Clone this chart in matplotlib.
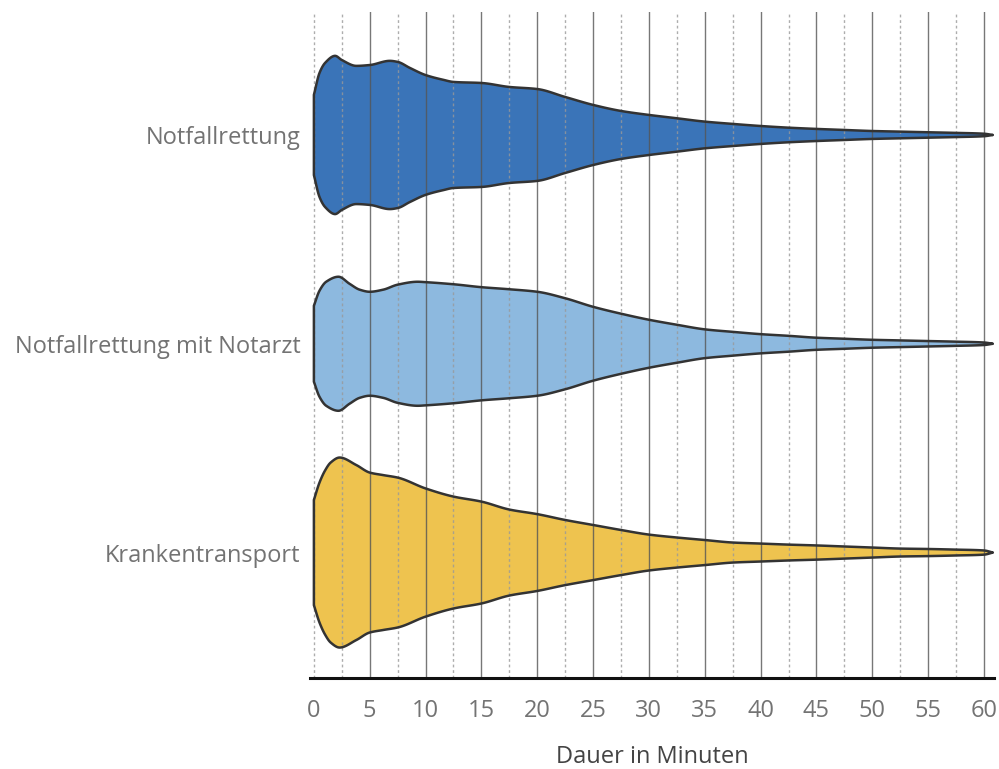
import numpy as np
import matplotlib
matplotlib.use("Agg")
import matplotlib.pyplot as plt

plt.rcParams["font.family"] = ["Open Sans", "DejaVu Sans"]

# Violin categories, top to bottom
categories = ["Notfallrettung", "Notfallrettung mit Notarzt", "Krankentransport"]
colors = ["#3a74b8", "#8db9df", "#eec34f"]

# Half-width of each violin (category units) at given minutes
notfall_x = [0, 0.5, 1.0, 1.9, 2.5, 3.8, 5, 6.8, 7.5, 8.6, 10, 11.6, 12.5, 15, 17.5, 20,
             22.5, 25, 27.5, 30, 32.5, 35, 37.5, 40, 42.5, 45, 47.5, 50, 52.5, 55, 57.5,
             60, 60.8]
notfall_w = [0.192, 0.297, 0.345, 0.379, 0.359, 0.331, 0.335, 0.355, 0.350, 0.321, 0.287,
             0.264, 0.254, 0.249, 0.230, 0.220, 0.182, 0.144, 0.115, 0.096, 0.080, 0.064,
             0.053, 0.043, 0.035, 0.029, 0.024, 0.019, 0.016, 0.013, 0.010, 0.006, 0.0]

notarzt_x = [0, 0.5, 1.1, 2.2, 3.2, 4.1, 5, 6.2, 7.5, 9.3, 10, 12.5, 15, 17.5, 20, 22.5,
             25, 27.5, 30, 32.5, 35, 37.5, 40, 42.5, 45, 47.5, 50, 52.5, 55, 57.5, 60, 60.8]
notarzt_w = [0.182, 0.254, 0.297, 0.321, 0.287, 0.259, 0.249, 0.259, 0.283, 0.297, 0.295,
             0.285, 0.271, 0.261, 0.249, 0.218, 0.177, 0.144, 0.115, 0.091, 0.069, 0.057,
             0.046, 0.038, 0.029, 0.024, 0.019, 0.016, 0.013, 0.010, 0.006, 0.0]

kranken_x = [0, 0.5, 1.0, 1.5, 2.3, 3.8, 5, 6.2, 7.5, 10, 12.5, 15, 17.5, 20, 22.5, 25,
             27.5, 30, 32.5, 35, 37.5, 40, 42.5, 45, 47.5, 50, 52.5, 55, 57.5, 60, 60.8]
kranken_w = [0.252, 0.335, 0.393, 0.431, 0.455, 0.419, 0.383, 0.371, 0.359, 0.307, 0.268,
             0.244, 0.206, 0.184, 0.156, 0.132, 0.108, 0.086, 0.072, 0.060, 0.048, 0.043,
             0.038, 0.034, 0.029, 0.024, 0.019, 0.017, 0.014, 0.010, 0.0]

profiles = [(notfall_x, notfall_w), (notarzt_x, notarzt_w), (kranken_x, kranken_w)]

x_ticks = list(range(0, 61, 5))


def pchip(x, y, xn):
    """Shape-preserving cubic curve through the given points."""
    x = np.asarray(x, float)
    y = np.asarray(y, float)
    h = np.diff(x)
    delta = np.diff(y) / h
    d = np.zeros_like(y)
    for k in range(1, len(x) - 1):
        if delta[k - 1] * delta[k] > 0:
            w1 = 2 * h[k] + h[k - 1]
            w2 = h[k] + 2 * h[k - 1]
            d[k] = (w1 + w2) / (w1 / delta[k - 1] + w2 / delta[k])
    d[0] = delta[0]
    d[-1] = delta[-1]
    idx = np.clip(np.searchsorted(x, xn) - 1, 0, len(h) - 1)
    t = (xn - x[idx]) / h[idx]
    h00 = 2 * t**3 - 3 * t**2 + 1
    h10 = t**3 - 2 * t**2 + t
    h01 = -2 * t**3 + 3 * t**2
    h11 = t**3 - t**2
    return (h00 * y[idx] + h10 * h[idx] * d[idx] + h01 * y[idx + 1]
            + h11 * h[idx] * d[idx + 1])


fig = plt.figure(figsize=(9.99, 7.69), dpi=100)
ax = fig.add_axes([0.3103, 0.1183, 0.6847, 0.8661])

n = len(categories)
for i, (cat, col, (px, pw)) in enumerate(zip(categories, colors, profiles)):
    yc = n - 1 - i
    xs = np.linspace(px[0], px[-1], 800)
    ws = np.clip(pchip(px, pw, xs), 0, None)
    poly_x = np.concatenate([xs, xs[::-1]])
    poly_y = np.concatenate([yc + ws, (yc - ws)[::-1]])
    ax.fill(poly_x, poly_y, facecolor=col, edgecolor="none", zorder=1)
    ax.fill(poly_x, poly_y, facecolor="none", edgecolor="#333333",
            linewidth=1.8, joinstyle="round", zorder=4)

# Vertical grid: solid every 5 minutes, dotted halfway between
for v in np.arange(0, 61, 2.5):
    if v % 5 == 0 and v > 0:
        ax.axvline(v, color="#555555", linewidth=1.0, alpha=0.8, zorder=2)
    else:
        ax.axvline(v, color="#999999", linewidth=1.0, linestyle=(0, (2, 2)),
                   alpha=0.8, zorder=2)

ax.set_xlim(-0.35, 60.9)
ax.set_ylim(-0.601, 2.589)

ax.set_xticks(x_ticks)
ax.set_xticklabels([str(t) for t in x_ticks])
ax.set_yticks(range(n))
ax.set_yticklabels(categories[::-1])
ax.tick_params(axis="both", length=0, labelcolor="#737373", labelsize=17)
ax.tick_params(axis="x", pad=15)
ax.tick_params(axis="y", pad=7)

for s in ["top", "right", "left"]:
    ax.spines[s].set_visible(False)
ax.spines["bottom"].set_color("#111111")
ax.spines["bottom"].set_linewidth(2.2)
ax.spines["bottom"].set_zorder(5)

ax.set_xlabel("Dauer in Minuten", fontsize=17, color="#444444", labelpad=16)

fig.savefig("out.png", dpi=100)
